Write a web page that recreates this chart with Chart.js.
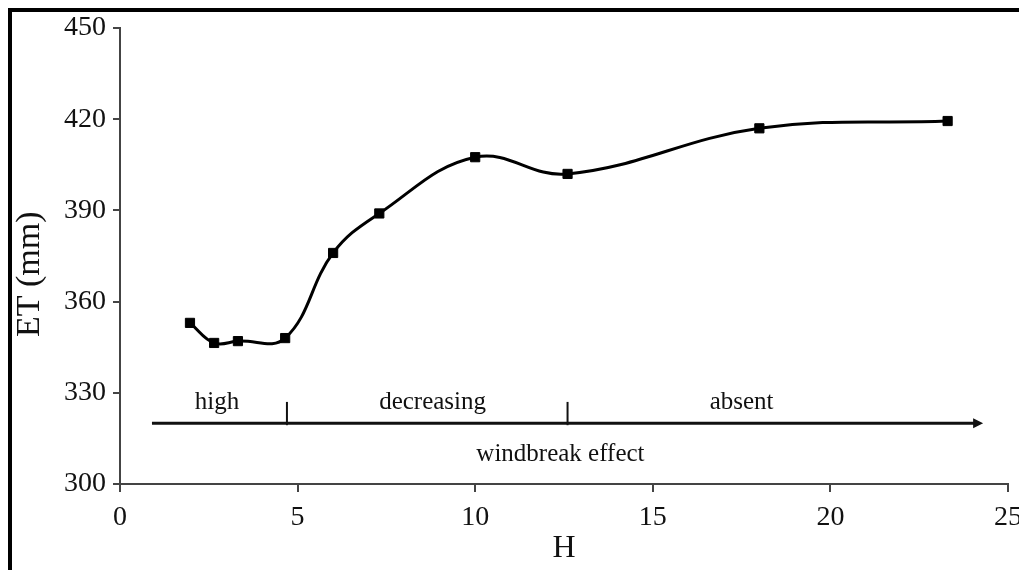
<!DOCTYPE html>
<html>
<head>
<meta charset="utf-8">
<script src="https://cdn.jsdelivr.net/npm/chart.js@4.4.0/dist/chart.umd.min.js"></script>
<style>
  html, body { margin: 0; padding: 0; background: #fff; }
  #wrap { position: relative; width: 1019px; height: 570px; }
</style>
</head>
<body>
<div id="wrap"><canvas id="etChart" width="1019" height="570"></canvas></div>
<script>
// distance from windbreak (H) and evapotranspiration (mm)
const distH = [1.97, 2.65, 3.32, 4.65, 6.0, 7.3, 10.0, 12.6, 18.0, 23.3];
const etMm = [353.0, 346.4, 347.0, 348.0, 376.0, 389.0, 407.5, 402.0, 417.0, 419.4];

const xTicks = [0, 5, 10, 15, 20, 25];
const yTicks = [300, 330, 360, 390, 420, 450];

// windbreak effect zones along the arrow
const zoneNames = ['high', 'decreasing', 'absent'];
const zoneCentres = [2.73, 8.8, 17.5];
const zoneBounds = [4.7, 12.6];
const arrowFrom = 0.9, arrowTo = 24.3, arrowAt = 320;
const effectLabel = 'windbreak effect';

const serif = '"Liberation Serif", "Times New Roman", serif';

const annotations = {
  id: 'annotations',
  beforeDraw(chart) {
    const ctx = chart.ctx;
    ctx.save();
    ctx.fillStyle = '#000';
    ctx.fillRect(8, 8, 1019, 4);
    ctx.fillRect(8, 8, 4, 570);
    ctx.restore();
  },
  afterDraw(chart) {
    const ctx = chart.ctx;
    const x = chart.scales.x, y = chart.scales.y;
    const ay = y.getPixelForValue(arrowAt);
    ctx.save();
    ctx.strokeStyle = '#111';
    ctx.fillStyle = '#111';
    ctx.lineWidth = 3;
    ctx.beginPath();
    ctx.moveTo(x.getPixelForValue(arrowFrom), ay);
    ctx.lineTo(x.getPixelForValue(arrowTo) - 6, ay);
    ctx.stroke();
    const tip = x.getPixelForValue(arrowTo);
    ctx.beginPath();
    ctx.moveTo(tip, ay);
    ctx.lineTo(tip - 10, ay - 5);
    ctx.lineTo(tip - 10, ay + 5);
    ctx.closePath();
    ctx.fill();

    ctx.lineWidth = 2;
    zoneBounds.forEach(b => {
      const bx = x.getPixelForValue(b);
      ctx.beginPath();
      ctx.moveTo(bx, y.getPixelForValue(327));
      ctx.lineTo(bx, ay + 2);
      ctx.stroke();
    });

    ctx.fillStyle = '#111';
    ctx.font = '25px ' + serif;
    ctx.textAlign = 'center';
    ctx.textBaseline = 'alphabetic';
    zoneNames.forEach((n, i) => {
      ctx.fillText(n, x.getPixelForValue(zoneCentres[i]), y.getPixelForValue(324.7));
    });
    ctx.fillText(effectLabel, x.getPixelForValue(12.4), y.getPixelForValue(307.6));

    // y axis title
    ctx.font = '34px ' + serif;
    ctx.textBaseline = 'middle';
    ctx.translate(30, y.getPixelForValue(369));
    ctx.rotate(-Math.PI / 2);
    ctx.fillText('ET (mm)', 0, 0);
    ctx.restore();
  }
};

new Chart(document.getElementById('etChart'), {
  type: 'line',
  data: {
    datasets: [{
      data: distH.map((h, i) => ({x: h, y: etMm[i]})),
      borderColor: '#000',
      backgroundColor: '#000',
      borderWidth: 3,
      tension: 0.4,
      pointStyle: 'rect',
      pointRadius: 6.5,
      pointBorderWidth: 1,
      fill: false
    }]
  },
  options: {
    responsive: false,
    animation: false,
    layout: { padding: { top: 28, right: 11, bottom: 0, left: 0 } },
    plugins: { legend: { display: false }, tooltip: { enabled: false } },
    scales: {
      x: {
        type: 'linear',
        min: 0, max: 25,
        afterBuildTicks: s => { s.ticks = xTicks.map(v => ({value: v})); },
        afterFit: s => { s.height = 86; s.paddingLeft = 0; s.paddingRight = 0; },
        border: { color: '#444', width: 2 },
        grid: { drawOnChartArea: false, drawTicks: true, tickLength: 8, color: '#444', lineWidth: 2 },
        ticks: { color: '#111', padding: 9, maxRotation: 0, font: { family: serif, size: 28 } },
        title: { display: true, text: 'H', color: '#111', padding: { top: 0, bottom: 2 }, font: { family: serif, size: 32 } }
      },
      y: {
        min: 300, max: 450,
        afterBuildTicks: s => { s.ticks = yTicks.map(v => ({value: v})); },
        afterFit: s => { s.width = 120; },
        border: { color: '#444', width: 2 },
        grid: { drawOnChartArea: false, drawTicks: true, tickLength: 7, color: '#444', lineWidth: 2 },
        ticks: { color: '#111', padding: 7, font: { family: serif, size: 28 } }
      }
    }
  },
  plugins: [annotations]
});
</script>
</body>
</html>
